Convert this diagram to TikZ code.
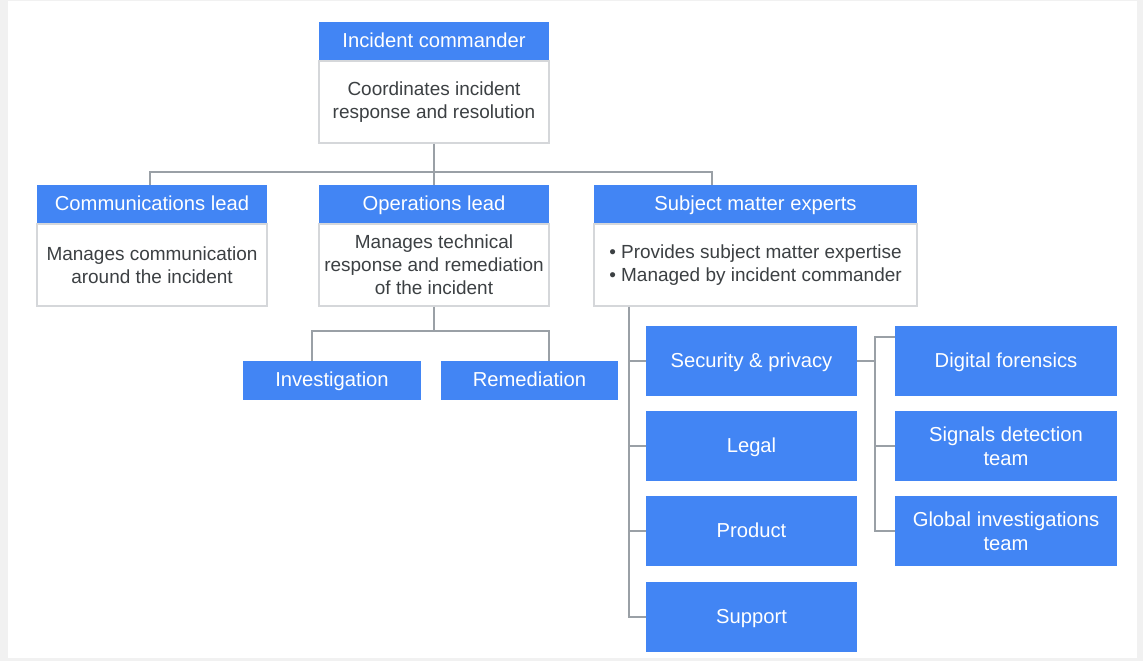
\documentclass[tikz,border=0pt]{standalone}
\usepackage{fontspec}
\setmainfont{Liberation Sans}
\usetikzlibrary{positioning}
\definecolor{gblue}{HTML}{4285F4}
\definecolor{lnk}{HTML}{9AA0A6}
\definecolor{boxline}{HTML}{D5D7DA}
\definecolor{txt}{HTML}{3C4043}
\definecolor{frame}{HTML}{F1F1F1}

\begin{document}
\begin{tikzpicture}[x=0.02cm, y=-0.02cm,
    head/.style={fill=gblue, text=white, inner sep=0pt, minimum height=0.76cm,
      text height=1.4ex, text depth=0pt, font=\fontsize{11.5}{13}\selectfont},
    body/.style={draw=boxline, line width=0.8pt, fill=white, text=txt, inner sep=0pt,
      align=center, minimum height=1.64cm, font=\fontsize{10.8}{13}\selectfont},
    team/.style={fill=gblue, text=white, inner sep=0pt, align=center,
      font=\fontsize{11.5}{13.8}\selectfont},
    oneline/.style={text height=1.4ex, text depth=0pt},
    link/.style={draw=lnk, line width=1.1pt}]

    % page
    \fill[frame] (0,0) rectangle (1143,661);
    \fill[white] (8,1) rectangle (1137,658);

    % commander and leads
    \node[head, minimum width=4.6cm] (ic) at (434,41) {Incident commander};
    \node[body, minimum width=4.6cm, below=0pt of ic] (icb) {Coordinates incident\\response and resolution};

    \node[head, minimum width=4.6cm] (comms) at (152,204) {Communications lead};
    \node[body, minimum width=4.6cm, below=0pt of comms] (commsb) {Manages communication\\around the incident};

    \node[head, minimum width=4.6cm] (ops) at (434,204) {Operations lead};
    \node[body, minimum width=4.6cm, below=0pt of ops] (opsb) {Manages technical\\response and remediation\\of the incident};

    \node[head, minimum width=6.46cm] (sme) at (755.5,204) {Subject matter experts};
    \node[body, minimum width=6.46cm, below=0pt of sme, align=left] (smeb)
      {\textbullet\ Provides subject matter expertise\\\textbullet\ Managed by incident commander};

    % operations teams
    \node[team, oneline, minimum width=3.56cm, minimum height=0.78cm] (inv) at (332,380.5) {Investigation};
    \node[team, oneline, minimum width=3.54cm, minimum height=0.78cm] (rem) at (529.5,380.5) {Remediation};

    % expert teams
    \node[team, oneline, minimum width=4.22cm, minimum height=1.4cm] (sec) at (751.5,361) {Security \& privacy};
    \node[team, oneline, minimum width=4.22cm, minimum height=1.4cm] (legal) at (751.5,446) {Legal};
    \node[team, oneline, minimum width=4.22cm, minimum height=1.4cm] (prod) at (751.5,531) {Product};
    \node[team, oneline, minimum width=4.22cm, minimum height=1.4cm] (supp) at (751.5,617) {Support};

    \node[team, oneline, minimum width=4.44cm, minimum height=1.4cm] (dfor) at (1006,361) {Digital forensics};
    \node[team, minimum width=4.44cm, minimum height=1.4cm] (sig) at (1006,446) {Signals detection\\team};
    \node[team, minimum width=4.44cm, minimum height=1.4cm] (glob) at (1006,531) {Global investigations\\team};

    % bus points
    \coordinate (busL) at (150,172);
    \coordinate (busR) at (712,172);
    \coordinate (opsL) at (312,331);
    \coordinate (opsR) at (549,331);
    \coordinate (smeX) at (629,0);
    \coordinate (secX) at (875,0);

    \draw[link] (icb.south) -- (ops.north);
    \draw[link] (busL |- comms.north) -- (busL) -- (busR) -- (busR |- sme.north);

    \draw[link] (opsb.south) -- (opsb.south |- opsL);
    \draw[link] (opsL |- inv.north) -- (opsL) -- (opsR) -- (opsR |- rem.north);

    \draw[link] (smeb.south -| smeX) -- (smeX |- supp.west) -- (supp.west);
    \foreach \t in {sec, legal, prod}
      \draw[link] (smeX |- \t.west) -- (\t.west);

    \draw[link] (sec.east) -- (sec.east -| secX);
    \draw[link] ([yshift=-0.22cm]dfor.north west) -| (secX |- glob.west) -- (glob.west);
    \draw[link] (secX |- sig.west) -- (sig.west);
\end{tikzpicture}
\end{document}
